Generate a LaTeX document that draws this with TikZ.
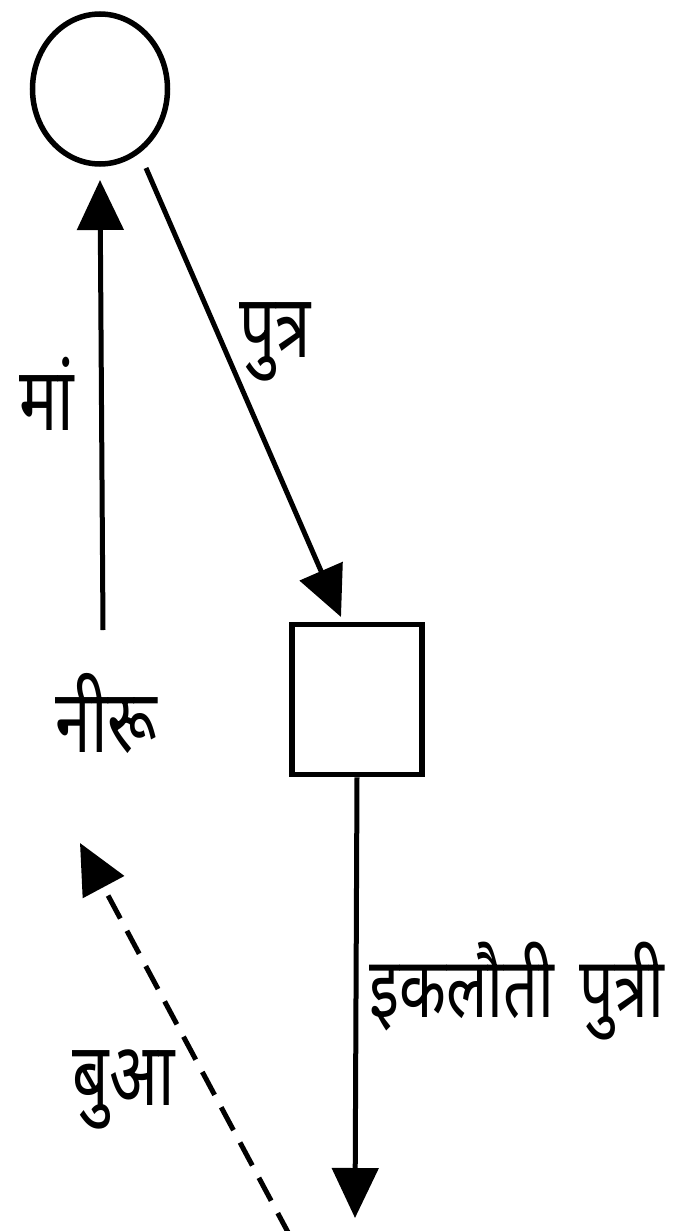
\documentclass[tikz,border=0pt]{standalone}
\usepackage{fontspec}
\usepackage{graphicx}
\newfontfamily\deva[Script=Devanagari]{Noto Sans}
\newcommand\tallText[1]{\scalebox{1}[1.38]{#1}}
\usetikzlibrary{arrows.meta,shapes.geometric}
\begin{document}
\begin{tikzpicture}[x=1pt,y=-1pt,
  line width=5pt,
  arr/.style={-{Triangle[length=50pt,width=46pt]}},
  lbl/.style={font=\deva\fontsize{64}{70}\selectfont, inner sep=0pt, anchor=base west}]
\useasboundingbox (0,0) rectangle (680,1231);
\node[draw, ellipse, minimum width=135pt, minimum height=150pt, line width=5.5pt] (c) at (100,89) {};
\node[draw, rectangle, minimum width=130pt, minimum height=150pt, line width=5.5pt] (b) at (357,699.5) {};
\node[lbl] (n) at (53,752) {\tallText{नीरू}};
\node[lbl] (ma) at (17,430) {\tallText{मां}};
\node[lbl] (pu) at (237,357) {\tallText{पुत्र}};
\node[lbl, font=\deva\fontsize{61}{70}\selectfont] (ik) at (367,1017) {\tallText{इकलौती\hspace{10pt} पुत्री}};
\node[lbl] (bu) at (70,1105) {\tallText{बुआ}};
\coordinate (nTop) at (103,630);
\coordinate (cOut) at (146,168);
\coordinate (bTop) at (341,617);
\coordinate (dEnd) at (355,1218);
\coordinate (dashStart) at (290,1236);
\coordinate (dashEnd) at (80,843);
\draw[arr] (nTop) -- (c.south |- 0,180);
\draw[arr] (cOut) -- (bTop);
\draw[arr] (b.south) -- (dEnd);
\draw[arr, dash pattern=on 26pt off 14pt] (dashStart) -- (dashEnd);
\end{tikzpicture}
\end{document}
